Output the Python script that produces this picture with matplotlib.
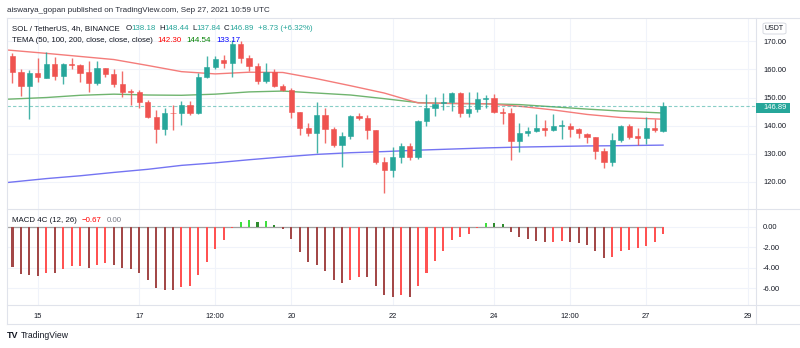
import matplotlib
matplotlib.use("Agg")
import matplotlib.pyplot as plt
from matplotlib.lines import Line2D
from matplotlib.patches import Rectangle, FancyBboxPatch
import numpy as np
import pandas as pd

# ---------------- data ----------------
bar_start = "2021-09-14 12:00"
bar_freq = "4h"

opens = [164.9, 159.2, 154.1, 158.6, 157.1, 161.8, 157.8, 162.0, 161.6, 159.0,
         155.1, 160.6, 158.4, 154.8, 152.3, 152.1, 148.5, 143.2, 138.7, 144.6,
         144.4, 147.3, 144.6, 157.4, 160.7, 163.3, 162.4, 169.0, 164.2, 161.3,
         156.0, 159.2, 154.2, 152.7, 145.0, 139.1, 137.3, 143.8, 138.7, 133.0,
         136.4, 143.5, 142.6, 138.5, 127.0, 124.2, 128.9, 132.9, 128.7, 141.7,
         146.4, 147.9, 148.5, 151.5, 144.4, 146.1, 149.5, 150.0, 145.0, 144.4,
         134.7, 137.5, 138.1, 139.2, 138.5, 139.9, 139.9, 138.7, 137.2, 135.9,
         131.1, 127.0, 134.9, 140.0, 136.3, 135.5, 139.1, 138.18]
highs = [165.8, 160.1, 159.8, 163.9, 166.3, 164.3, 162.4, 163.9, 161.8, 163.0,
         163.1, 160.6, 160.1, 159.3, 152.9, 152.7, 149.1, 145.6, 146.2, 147.3,
         148.9, 148.8, 158.6, 164.8, 164.8, 165.1, 170.5, 170.2, 165.1, 162.2,
         162.2, 160.0, 154.8, 153.3, 145.0, 140.8, 148.5, 146.2, 139.7, 137.8,
         143.8, 144.6, 143.8, 138.5, 129.0, 132.3, 133.7, 133.7, 142.0, 151.3,
         150.3, 151.7, 152.1, 152.1, 152.1, 152.1, 150.9, 151.1, 146.2, 146.2,
         140.8, 139.7, 144.2, 142.0, 144.2, 142.0, 140.8, 139.1, 137.3, 136.1,
         132.0, 137.5, 140.3, 140.5, 139.1, 143.0, 142.3, 148.44]
lows = [155.2, 150.7, 142.4, 155.6, 157.0, 156.2, 154.8, 160.0, 155.6, 151.9,
        154.5, 157.4, 153.9, 150.3, 147.4, 146.4, 142.6, 133.7, 136.7, 138.5,
        140.1, 143.8, 144.0, 156.8, 160.0, 160.5, 157.4, 162.2, 159.6, 154.8,
        155.3, 153.9, 152.5, 142.6, 136.7, 136.3, 130.2, 133.7, 132.6, 125.3,
        135.4, 142.0, 135.2, 126.5, 116.0, 121.9, 126.6, 127.8, 128.2, 140.0,
        143.6, 145.6, 145.3, 143.0, 143.0, 145.0, 146.2, 144.4, 140.6, 127.8,
        130.8, 136.3, 137.9, 136.3, 138.2, 135.3, 136.1, 135.5, 133.7, 128.1,
        124.9, 125.5, 134.3, 135.2, 133.2, 133.5, 137.8, 137.84]
closes = [159.2, 154.1, 158.8, 157.2, 161.9, 157.8, 161.8, 161.5, 158.6, 155.1,
          160.6, 158.3, 154.7, 152.1, 152.0, 148.5, 143.2, 138.7, 144.6, 144.4,
          147.3, 144.6, 157.4, 160.7, 163.6, 162.4, 169.0, 164.2, 161.3, 156.0,
          159.2, 154.2, 152.7, 145.0, 139.1, 137.3, 143.8, 138.7, 133.2, 136.4,
          143.5, 142.6, 138.5, 127.0, 124.2, 128.9, 132.9, 128.7, 141.7, 146.4,
          147.7, 148.4, 151.5, 144.4, 146.1, 149.5, 150.0, 145.0, 144.4, 134.7,
          137.5, 138.1, 139.1, 138.5, 139.9, 140.1, 138.7, 137.3, 135.9, 131.1,
          127.0, 134.9, 140.0, 136.1, 135.5, 139.1, 138.3, 146.89]

tema_idx = [-0.65, 4, 8, 12, 16, 20, 24, 28, 32, 36, 40, 44, 48, 52, 56, 60, 64, 68, 72, 77]
tema50 = [166.9, 165.7, 164.6, 163.5, 161.4, 159.2, 158.4, 159.0, 158.9, 156.7,
          154.2, 151.6, 148.1, 147.9, 147.8, 146.9, 145.6, 144.0, 142.9, 142.3]
tema100 = [149.4, 150.0, 150.8, 151.2, 150.9, 150.8, 151.2, 152.0, 152.3, 151.6,
           150.9, 149.6, 148.2, 147.9, 147.8, 147.5, 146.7, 145.9, 145.2, 144.5]
tema200 = [119.8, 121.2, 122.2, 123.4, 124.5, 125.9, 126.8, 127.9, 128.9, 129.8,
           130.4, 130.8, 131.3, 131.7, 132.1, 132.4, 132.6, 132.8, 132.9, 133.1]

macd_hist = [-3.96, -4.64, -4.74, -4.84, -4.48, -4.50, -4.12, -3.86, -3.83, -3.99,
             -3.70, -3.54, -3.73, -3.99, -4.16, -4.55, -5.19, -6.01, -6.14, -6.16,
             -5.88, -5.78, -4.71, -3.44, -2.21, -1.30, -0.10, 0.49, 0.68, 0.49,
             0.55, 0.16, -0.26, -1.23, -2.44, -3.47, -3.73, -4.29, -5.16, -5.49,
             -5.16, -4.87, -4.94, -5.78, -6.69, -6.88, -6.66, -6.82, -5.78, -4.48,
             -3.31, -2.34, -1.27, -1.04, -0.68, -0.16, 0.39, 0.32, 0.26, -0.55,
             -0.97, -1.23, -1.36, -1.53, -1.46, -1.40, -1.46, -1.62, -1.79, -2.34,
             -3.02, -2.92, -2.37, -2.27, -2.11, -1.85, -1.53, -0.67]
# M = maroon (below zero, falling), R = red (below zero, rising),
# L = lime (above zero, rising), G = green (above zero, falling)
macd_col = ("MMMMRMRRRM" "RRMMMMMMMM" "RRRRRRRLLG" "LGMMMMMMMM"
            "RRMMMMRMRR" "RRRRRRLGGM" "MMMMRRMMMM" "MRRRRRRR")

price_ticks = [120, 130, 140, 150, 160, 170]
macd_ticks = [0, -2, -4, -6]
time_tick_dates = ["2021-09-15", "2021-09-17", "2021-09-18 12:00", "2021-09-20",
                   "2021-09-22", "2021-09-24", "2021-09-25 12:00", "2021-09-27",
                   "2021-09-29"]
time_tick_labels = ["15", "17", "12:00", "20", "22", "24", "12:00", "27", "29"]

last_price = 146.89
title = "aiswarya_gopan published on TradingView.com, Sep 27, 2021 10:59 UTC"
symbol = "SOL / TetherUS, 4h, BINANCE"
ohlc_letters = ["O", "H", "L", "C"]
ohlc_values = ["138.18", "148.44", "137.84", "146.89"]
change_text = "+8.73 (+6.32%)"
tema_name = "TEMA (50, 100, 200, close, close, close)"
tema_last = ["142.30", "144.54", "133.17"]
macd_name = "MACD 4C (12, 26)"
macd_last = ["\u22120.67", "0.00"]

# ---------------- style ----------------
W, H, DPI = 800, 348, 100
FONT = ["Liberation Sans", "DejaVu Sans"]
plt.rcParams["font.family"] = FONT
TXT = "#131722"
UP, DN = "#26a69a", "#ef5350"
GRID = "#f0f3fa"
BORDER = "#e0e3eb"
macd_cmap = {"M": "#a34848", "R": "#ff5252", "L": "#3ee03e", "G": "#2e8b2e"}

fig = plt.figure(figsize=(W / DPI, H / DPI), dpi=DPI, facecolor="white")

L_, R_ = 7, 756
T_P, B_P, B_M, B_T = 18, 209, 305, 324

ax_p = fig.add_axes([L_ / W, 1 - B_P / H, (R_ - L_) / W, (B_P - T_P) / H])
ax_m = fig.add_axes([L_ / W, 1 - B_M / H, (R_ - L_) / W, (B_M - B_P) / H], sharex=ax_p)

n = len(opens)
idx = np.arange(n)
times = pd.date_range(bar_start, periods=n, freq=bar_freq)
step = pd.Timedelta(bar_freq)
tick_pos = [(pd.Timestamp(d) - times[0]) / step for d in time_tick_dates]

o, h, l, c = map(np.asarray, (opens, highs, lows, closes))
col = np.where(c >= o, UP, DN)

# price panel
ax_p.plot(tema_idx, tema200, color="#7474f2", lw=1.0, zorder=2)
ax_p.plot(tema_idx, tema100, color="#6fb46f", lw=1.0, zorder=2)
ax_p.plot(tema_idx, tema50, color="#f47c7a", lw=1.0, zorder=2)
ax_p.axhline(last_price, color=UP, lw=0.8, ls=(0, (3, 2)), alpha=0.55, zorder=2)
ax_p.vlines(idx, l, h, colors=col, lw=1.0, alpha=0.85, zorder=3)
ax_p.bar(idx, c - o, bottom=o, width=0.62, color=col, edgecolor=col, lw=0.4, zorder=4)

ax_p.set_xlim(-0.65, 88.0)
ax_p.set_ylim(110.4, 178.26)
ax_p.set_yticks(price_ticks)
ax_p.set_yticklabels([f"{v:.2f}" for v in price_ticks])
ax_p.yaxis.tick_right()
ax_p.tick_params(axis="y", length=0, pad=5, labelsize=5.4, labelcolor=TXT)
ax_p.tick_params(axis="x", length=0, labelbottom=False)
ax_p.grid(True, color=GRID, lw=0.8)
ax_p.set_axisbelow(True)

# macd panel
ax_m.bar(idx, macd_hist, width=0.24, color=[macd_cmap[ch] for ch in macd_col], zorder=3)
ax_m.hlines(0, -0.65, idx[-1], color="#a0a0a0", lw=0.9, zorder=2)
ax_m.set_ylim(-7.62, 1.72)
ax_m.set_yticks(macd_ticks)
ax_m.set_yticklabels([f"{v:.2f}" for v in macd_ticks])
ax_m.yaxis.tick_right()
ax_m.tick_params(axis="y", length=0, pad=5, labelsize=5.4, labelcolor=TXT)
ax_m.set_xticks(tick_pos)
ax_m.set_xticklabels(time_tick_labels)
ax_m.tick_params(axis="x", length=0, pad=5.5, labelsize=5.4, labelcolor=TXT)
ax_m.grid(True, color=GRID, lw=0.8)
ax_m.set_axisbelow(True)

for ax in (ax_p, ax_m):
    for s in ax.spines.values():
        s.set_visible(False)
    ax.set_facecolor("none")

# frame lines
def fline(xs, ys, color=BORDER, lw=0.8):
    fig.add_artist(Line2D([x / W for x in xs], [1 - y / H for y in ys],
                          color=color, lw=lw, zorder=5))

fline([L_, W], [T_P, T_P])
fline([L_, W], [B_P, B_P])
fline([L_, W], [B_M, B_M])
fline([L_, W], [B_T, B_T])
fline([L_, L_], [T_P, B_T])
fline([R_, R_], [T_P, B_T])

# last price label
fig.add_artist(Rectangle((R_ / W, 1 - 113 / H), 34 / W, 10 / H, transform=fig.transFigure,
                         facecolor=UP, edgecolor="none", zorder=6))
fig.text(763 / W, 1 - 108 / H, f"{last_price:.2f}", color="white", fontsize=5.4,
         va="center", ha="left", zorder=7)

# USDT box
fig.add_artist(FancyBboxPatch((763 / W, 1 - 34 / H), 23 / W, 11 / H, transform=fig.transFigure,
                              boxstyle="round,pad=0,rounding_size=0.004",
                              facecolor="white", edgecolor="#d1d4dc", lw=0.6, zorder=6))
fig.text(774.5 / W, 1 - 28.5 / H, "USDT", color=TXT, fontsize=5, va="center", ha="center", zorder=7)

renderer = fig.canvas.get_renderer()


def seq_text(x_px, y_px, parts, size):
    x = x_px
    for s, color, gap in parts:
        x += gap
        t = fig.text(x / W, 1 - y_px / H, s, color=color, fontsize=size,
                     va="center", ha="left", zorder=7)
        x += t.get_window_extent(renderer).width


fig.text(7 / W, 1 - 10 / H, title, color="#2a2e39", fontsize=5.8, va="center", ha="left")

parts1 = [(symbol, TXT, 0)]
for i, (let, val) in enumerate(zip(ohlc_letters, ohlc_values)):
    parts1.append((let, TXT, 6 if i == 0 else 3))
    parts1.append((val, UP, 0))
parts1.append((change_text, UP, 4))
seq_text(11.7, 28.3, parts1, 5.7)

seq_text(11.7, 40.7, [(tema_name, TXT, 0), (tema_last[0], "#ff0000", 5),
                      (tema_last[1], "#008000", 5), (tema_last[2], "#0000ff", 5)], 5.7)

seq_text(11.7, 220, [(macd_name, TXT, 0), (macd_last[0], "#ff0000", 5),
                     (macd_last[1], "#787b86", 5)], 5.7)

# logo
fig.text(7 / W, 1 - 336 / H, "TV", color="#131722", fontsize=6.5, fontweight="bold",
         va="center", ha="left")
fig.text(21 / W, 1 - 336 / H, "TradingView", color="#131722", fontsize=6.2,
         va="center", ha="left")

fig.savefig("out.png", dpi=DPI, facecolor="white")
